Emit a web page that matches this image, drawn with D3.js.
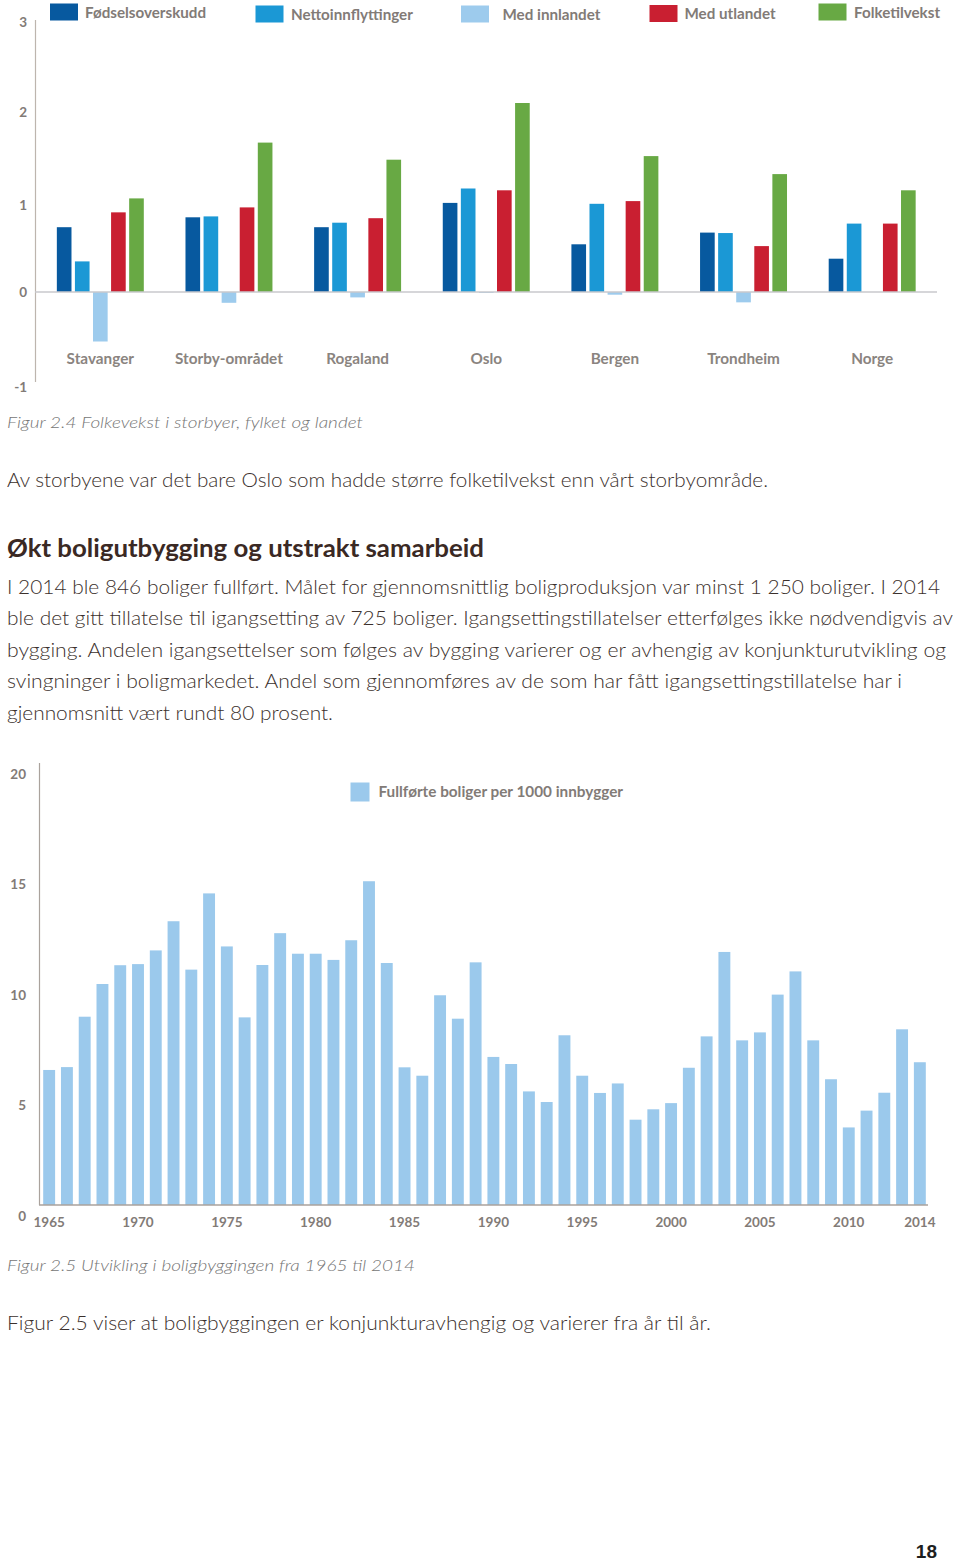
<!DOCTYPE html>
<html><head><meta charset="utf-8">
<script src="https://cdn.jsdelivr.net/npm/d3@7"></script>
<style>
html,body{margin:0;padding:0;background:#fff;}
svg{display:block;}
</style></head>
<body>
<svg id="page" width="960" height="1566"></svg>
<script>
// ---------- Data: Figur 2.4 ----------
const categories = ["Stavanger","Storby-området","Rogaland","Oslo","Bergen","Trondheim","Norge"];
const seriesNames = ["Fødselsoverskudd","Nettoinnflyttinger","Med innlandet","Med utlandet","Folketilvekst"];
const fodselsoverskudd = [0.72, 0.83, 0.72, 0.99, 0.53, 0.66, 0.37];
const nettoinnflyttinger = [0.34, 0.84, 0.77, 1.15, 0.98, 0.655, 0.76];
const medInnlandet = [-0.55, -0.12, -0.06, -0.01, -0.03, -0.115, 0];
const medUtlandet = [0.885, 0.94, 0.82, 1.13, 1.01, 0.51, 0.76];
const folketilvekst = [1.04, 1.66, 1.47, 2.10, 1.51, 1.31, 1.13];
const topTicks = [-1, 0, 1, 2, 3];

// ---------- Data: Figur 2.5 ----------
const years = [1965,1966,1967,1968,1969,1970,1971,1972,1973,1974,1975,1976,1977,1978,1979,1980,1981,1982,1983,1984,1985,1986,1987,1988,1989,1990,1991,1992,1993,1994,1995,1996,1997,1998,1999,2000,2001,2002,2003,2004,2005,2006,2007,2008,2009,2010,2011,2012,2013,2014];
const fullforte = [6.11,6.24,8.52,10.0,10.85,10.9,11.52,12.84,10.65,14.1,11.7,8.49,10.86,12.3,11.37,11.37,11.09,11.98,14.65,10.95,6.23,5.85,9.49,8.43,10.98,6.7,6.38,5.14,4.66,7.68,5.85,5.07,5.5,3.86,4.33,4.61,6.21,7.63,11.45,7.45,7.81,9.52,10.57,7.45,5.69,3.51,4.27,5.08,7.95,6.46];
const yearTickLabels = [1965,1970,1975,1980,1985,1990,1995,2000,2005,2010,2014];
const bottomTicks = [0,5,10,15,20];
const bottomLegend = "Fullførte boliger per 1000 innbygger";

// ---------- Styles ----------
const colors = ["#07599f","#1b98d5","#9dcbed","#c91f31","#68a944"];
const barBlue = "#9bc9ec";
const labelGray = "#827b77";
const chartFont = "Lato, 'Open Sans', sans-serif";
const textFont = "Lato, 'Open Sans', sans-serif";

const svg = d3.select("#page");

// ================= Top chart =================
const seriesValues = [fodselsoverskudd, nettoinnflyttinger, medInnlandet, medUtlandet, folketilvekst];
const topData = categories.map((c, i) => ({cat: c, vals: seriesNames.map((s, j) => ({s, j, v: seriesValues[j][i]}))}));

const x0 = d3.scaleBand().domain(categories).range([36, 936.5]).paddingInner(0.324).paddingOuter(0.162);
const x1 = d3.scaleBand().domain(seriesNames).range([0, x0.bandwidth()]).paddingInner(0.19);
const yTop = d3.scaleLinear().domain([-1, 3]).range([382, 22]);

const topG = svg.append("g");
topG.append("line").attr("x1", 35.5).attr("x2", 35.5).attr("y1", 20).attr("y2", 382)
  .attr("stroke", "#bdb5ae").attr("stroke-width", 1.2);

const groups = topG.selectAll("g.grp").data(topData).join("g")
  .attr("transform", d => `translate(${x0(d.cat)},0)`);
groups.selectAll("rect").data(d => d.vals).join("rect")
  .attr("x", d => x1(d.s))
  .attr("width", x1.bandwidth())
  .attr("y", d => yTop(Math.max(0, d.v)))
  .attr("height", d => Math.abs(yTop(d.v) - yTop(0)))
  .attr("fill", d => colors[d.j]);

topG.append("line").attr("x1", 35).attr("x2", 937).attr("y1", yTop(0)).attr("y2", yTop(0))
  .attr("stroke", "#c9c8cc").attr("stroke-width", 1.5);

topG.selectAll("text.ytick").data(topTicks).join("text")
  .attr("x", 27).attr("y", d => yTop(d) + (d === -1 ? 5 : (d === 1 ? 3 : 0)))
  .attr("dy", "0.35em").attr("text-anchor", "end")
  .attr("font-family", chartFont).attr("font-weight", 700).attr("font-size", 13.5)
  .attr("fill", labelGray).text(d => d);

topG.selectAll("text.cat").data(categories).join("text")
  .attr("x", d => x0(d) + x0.bandwidth() / 2).attr("y", 359).attr("dy", "0.35em")
  .attr("text-anchor", "middle")
  .attr("font-family", chartFont).attr("font-weight", 700).attr("font-size", 15.3)
  .attr("fill", "#8a8480").text(d => d);

const legendPos = [{sx: 50, sy: 3.5, tx: 85}, {sx: 255.5, sy: 5.5, tx: 291}, {sx: 461, sy: 5.5, tx: 502.5},
                   {sx: 649.5, sy: 5, tx: 684.5}, {sx: 818.5, sy: 3.5, tx: 854}];
const lg = topG.selectAll("g.lg").data(seriesNames).join("g");
lg.append("rect").attr("x", (d, i) => legendPos[i].sx).attr("y", (d, i) => legendPos[i].sy)
  .attr("width", 28).attr("height", 17).attr("fill", (d, i) => colors[i]);
lg.append("text").attr("x", (d, i) => legendPos[i].tx).attr("y", (d, i) => legendPos[i].sy + 9).attr("dy", "0.35em")
  .attr("font-family", chartFont).attr("font-weight", 700).attr("font-size", 15.2)
  .attr("fill", labelGray).text(d => d);

// ================= Texts =================
function line(txt, x, y, opts) {
  const t = svg.append("text").attr("x", x).attr("y", y)
    .attr("font-family", opts.family || textFont)
    .attr("font-size", opts.size)
    .attr("font-weight", opts.weight || 400)
    .attr("font-style", opts.style || "normal")
    .attr("fill", opts.fill)
    .text(txt);
  if (opts.len) t.attr("textLength", opts.len).attr("lengthAdjust", "spacingAndGlyphs");
  return t;
}
const bodyFill = "#3b302c";
line("Figur 2.4 Folkevekst i storbyer, fylket og landet", 7, 428, {size: 16.5, style: "italic", weight: 300, fill: "#767676", len: 356});
line("Av storbyene var det bare Oslo som hadde større folketilvekst enn vårt storbyområde.", 7, 487, {size: 19.5, weight: 300, fill: bodyFill, len: 761});
line("Økt boligutbygging og utstrakt samarbeid", 7, 557, {size: 24, weight: 700, fill: "#3a2924", len: 477});
const para = [
  ["I 2014 ble 846 boliger fullført. Målet for gjennomsnittlig boligproduksjon var minst 1 250 boliger. I 2014", 933],
  ["ble det gitt tillatelse til igangsetting av 725 boliger. Igangsettingstillatelser etterfølges ikke nødvendigvis av", 946],
  ["bygging. Andelen igangsettelser som følges av bygging varierer og er avhengig av konjunkturutvikling og", 939],
  ["svingninger i boligmarkedet. Andel som gjennomføres av de som har fått igangsettingstillatelse har i", 895],
  ["gjennomsnitt vært rundt 80 prosent.", 326]
];
const paraY = [594, 625, 657, 688, 720];
para.forEach((p, i) => line(p[0], 7, paraY[i], {size: 19.5, weight: 300, fill: bodyFill, len: p[1]}));
line("Figur 2.5 Utvikling i boligbyggingen fra 1965 til 2014", 7, 1271, {size: 16.5, style: "italic", weight: 300, fill: "#767676", len: 408});
line("Figur 2.5 viser at boligbyggingen er konjunkturavhengig og varierer fra år til år.", 7, 1330, {size: 19.5, weight: 300, fill: bodyFill, len: 704});
svg.append("text").attr("x", 937).attr("y", 1558).attr("text-anchor", "end")
  .attr("font-family", "'Liberation Sans', Arial, sans-serif").attr("font-weight", 700).attr("font-size", 19)
  .attr("fill", "#1e1e1e").text("18");

// ================= Bottom chart =================
const bx = d3.scaleBand().domain(years).range([40, 929]).paddingInner(0.33).paddingOuter(0.18);
const by = d3.scaleLinear().domain([0, 20]).range([1205, 763]);
const bot = svg.append("g");

bot.selectAll("rect.bar").data(years.map((y, i) => ({y, v: fullforte[i]}))).join("rect")
  .attr("x", d => bx(d.y)).attr("width", bx.bandwidth())
  .attr("y", d => by(d.v)).attr("height", d => by(0) - by(d.v))
  .attr("fill", barBlue);

bot.append("line").attr("x1", 39.5).attr("x2", 39.5).attr("y1", 763).attr("y2", 1205)
  .attr("stroke", "#aaa29c").attr("stroke-width", 1.2);
bot.append("line").attr("x1", 39).attr("x2", 928).attr("y1", 1205).attr("y2", 1205)
  .attr("stroke", "#aaa29c").attr("stroke-width", 1.4);

bot.selectAll("text.yt").data(bottomTicks).join("text")
  .attr("x", 26).attr("y", d => by(d) + 11).attr("dy", "0.35em").attr("text-anchor", "end")
  .attr("font-family", chartFont).attr("font-weight", 700).attr("font-size", 13.5)
  .attr("fill", labelGray).text(d => d);

bot.selectAll("text.xt").data(yearTickLabels).join("text")
  .attr("x", d => bx(d) + bx.bandwidth() / 2).attr("y", 1222).attr("dy", "0.35em").attr("text-anchor", "middle")
  .attr("font-family", chartFont).attr("font-weight", 700).attr("font-size", 13.5)
  .attr("fill", labelGray).text(d => d);

bot.append("rect").attr("x", 350.5).attr("y", 782.5).attr("width", 19).attr("height", 19).attr("fill", barBlue);
bot.append("text").attr("x", 378.5).attr("y", 792).attr("dy", "0.35em")
  .attr("font-family", chartFont).attr("font-weight", 700).attr("font-size", 15.3)
  .attr("fill", labelGray).text(bottomLegend);
</script>
</body></html>
